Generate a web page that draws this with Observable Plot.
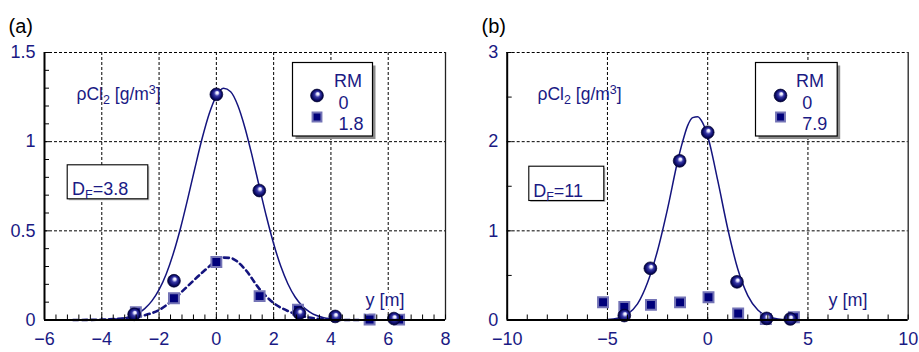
<!DOCTYPE html>
<html><head><meta charset="utf-8">
<script src="https://cdn.jsdelivr.net/npm/d3@7"></script>
<script src="https://cdn.jsdelivr.net/npm/@observablehq/plot@0.6"></script>
<style>
body{margin:0;background:#fff;}
#wrap{display:flex;width:919px;height:352px;overflow:hidden;}
</style></head><body><div id="wrap"></div>
<script>
// ---------- Panel (a) data ----------
const aCircleX = [-2.87, -1.48, 0, 1.5, 2.9, 4.15, 6.2];
const aCircleY = [0.032, 0.22, 1.265, 0.726, 0.038, 0.02, 0.008];
const aSquareX = [-2.81, -1.48, 0, 1.51, 2.85, 5.35, 6.38];
const aSquareY = [0.044, 0.122, 0.325, 0.134, 0.058, 0.003, 0.003];
const aFitX = [-5, -4.5, -4, -3.5, -3.25, -3, -2.75, -2.5, -2.25, -2, -1.75, -1.5, -1.25, -1, -0.75, -0.5, -0.25, 0, 0.25, 0.5, 0.75, 1, 1.25, 1.5, 1.75, 2, 2.25, 2.5, 2.75, 3, 3.25, 3.5, 3.75, 4, 4.5, 5, 5.5, 6];
const aFitY = [0, 0.0002, 0.001, 0.005, 0.01, 0.02, 0.036, 0.064, 0.107, 0.17, 0.258, 0.374, 0.516, 0.679, 0.851, 1.016, 1.157, 1.256, 1.299, 1.28, 1.203, 1.077, 0.919, 0.747, 0.579, 0.428, 0.301, 0.202, 0.129, 0.079, 0.046, 0.025, 0.013, 0.007, 0.001, 0, 0, 0];
const aDashX = [-5, -4, -3.5, -3, -2.5, -2, -1.5, -1, -0.5, 0, 0.25, 0.5, 1, 1.5, 2, 2.5, 3, 3.5, 4, 4.5, 5];
const aDashY = [0, 0.002, 0.006, 0.013, 0.027, 0.056, 0.115, 0.19, 0.265, 0.33, 0.35, 0.347, 0.285, 0.175, 0.095, 0.05, 0.022, 0.008, 0.002, 0, 0];
const aXDomain = [-6, 8];
const aYDomain = [0, 1.5];
const aXTicks = [-6, -4, -2, 0, 2, 4, 6, 8];
const aYTicks = [0, 0.5, 1, 1.5];
const aGridX = [-4, -2, 0, 2, 4, 6];
const aGridY = [0.5, 1];
const aLegend = ["RM", "0", "1.8"];
const aDF = "D_F=3.8";

// ---------- Panel (b) data ----------
const bCircleX = [-4.16, -2.86, -1.4, 0, 1.46, 2.94, 4.12];
const bCircleY = [0.05, 0.58, 1.785, 2.105, 0.428, 0.018, 0.012];
const bSquareX = [-5.22, -4.16, -2.83, -1.38, 0.04, 1.52, 2.9, 4.3];
const bSquareY = [0.2, 0.145, 0.17, 0.198, 0.255, 0.072, 0.012, 0.03];
const bFitX = [-5, -4.5, -4, -3.5, -3, -2.5, -2, -1.5, -1.25, -1, -0.75, -0.5, -0.25, 0, 0.5, 1, 1.5, 2, 2.5, 3, 3.5, 4, 4.5, 5];
const bFitY = [0.005, 0.02, 0.065, 0.18, 0.42, 0.78, 1.25, 1.78, 2.0, 2.18, 2.27, 2.28, 2.21, 2.06, 1.565, 1.023, 0.571, 0.273, 0.111, 0.039, 0.012, 0.003, 0.001, 0];
const bXDomain = [-10, 10];
const bYDomain = [0, 3];
const bXTicks = [-10, -5, 0, 5, 10];
const bYTicks = [0, 1, 2, 3];
const bGridX = [-5, 0, 5];
const bGridY = [1, 2];
const bLegend = ["RM", "0", "7.9"];
const bDF = "D_F=11";

const yLabel = "ρCl_2 [g/m^3]";
const xLabel = "y [m]";

const NAVY = "#1a1a84";
const LINE = "#14147e";
const FONT = "'Liberation Sans', Arial, Helvetica, sans-serif";
const FS = 18;
const fmt = d => (d < 0 ? "\u2212" + (-d) : String(d));
const pts = (xs, ys) => xs.map((x, i) => ({x, y: ys[i]}));

function panel(c) {
  const H = 352;
  const fw = c.width - c.ml - c.mr;
  const fh = H - c.mt - c.mb;
  const dashed = {stroke: "black", strokeWidth: 1, strokeDasharray: "3,2"};
  const lg = c.legendBox; // insets
  const marks = [
    Plot.ruleX(c.gridX, dashed),
    Plot.ruleY(c.gridY, dashed),
    Plot.ruleY([c.yDomain[1]], dashed),
    Plot.ruleX([c.xDomain[1]], {stroke: "#222", strokeWidth: 1.3}),
    // legend shadow + box
    Plot.frame({fill: "#8c8c8c", stroke: null, insetLeft: lg[0] + 3, insetTop: lg[1] + 3, insetRight: lg[2] - 3, insetBottom: lg[3] - 3}),
    Plot.frame({fill: "white", stroke: "black", strokeWidth: 1.2, insetLeft: lg[0], insetTop: lg[1], insetRight: lg[2], insetBottom: lg[3]}),
    // DF box
    Plot.frame({fill: "#bbbbbb", stroke: null, insetLeft: c.dfBox[0] + 1.5, insetTop: c.dfBox[1] + 1.5, insetRight: c.dfBox[2] - 1.5, insetBottom: c.dfBox[3] - 1.5}),
    Plot.frame({fill: "white", stroke: "black", strokeWidth: 1.1, insetLeft: c.dfBox[0], insetTop: c.dfBox[1], insetRight: c.dfBox[2], insetBottom: c.dfBox[3]}),
  ];
  if (c.dash) marks.push(Plot.line(pts(c.dash[0], c.dash[1]), {x: "x", y: "y", stroke: LINE, strokeWidth: 2.6, strokeDasharray: "5,4", curve: "monotone-x"}));
  marks.push(
    Plot.line(pts(c.fit[0], c.fit[1]), {x: "x", y: "y", stroke: LINE, strokeWidth: 1.5, curve: "monotone-x"}),
    Plot.dot(pts(c.sq[0], c.sq[1]), {x: "x", y: "y", symbol: "square", r: 5.6, fill: "#00007a", stroke: "#7474b6", strokeWidth: 2}),
    Plot.dot(pts(c.ci[0], c.ci[1]), {x: "x", y: "y", r: 6.4, fill: `url(#${c.id}sph)`, stroke: "#000035", strokeWidth: 0.7}),
    // axes: lines
    Plot.ruleY([c.yDomain[0]], {stroke: "black", strokeWidth: 2}),
    Plot.ruleX([c.xDomain[0]], {stroke: "black", strokeWidth: 2}),
    // inward minor ticks
    Plot.tickX(c.minorX, {x: d => d, insetTop: fh - 5, stroke: "black", strokeWidth: 1}),
    Plot.tickY(c.minorY, {y: d => d, insetRight: fw - 5, stroke: "black", strokeWidth: 1}),
    Plot.axisX({ticks: c.xTicks, tickSize: 0, tickPadding: 12, tickFormat: fmt, label: null, fontSize: FS}),
    Plot.axisY({ticks: c.yTicks, tickSize: 0, tickPadding: 9, tickFormat: fmt, label: null, fontSize: FS}),
    // legend symbols & text
    Plot.dot([0], {frameAnchor: "top-left", dx: c.legSym[0], dy: c.legSym[1], r: 6.4, fill: `url(#${c.id}sph)`, stroke: "#000035", strokeWidth: 0.7}),
    Plot.dot([0], {frameAnchor: "top-left", dx: c.legSym[0], dy: c.legSym[2], symbol: "square", r: 5, fill: "#00007a", stroke: "#7474b6", strokeWidth: 2}),
    Plot.text([c.legend[0]], {frameAnchor: "top-left", dx: c.legRM[0], dy: c.legRM[1], textAnchor: "middle", fontSize: FS, fill: NAVY}),
    Plot.text([c.legend[1]], {frameAnchor: "top-left", dx: c.legTxt[0], dy: c.legTxt[1], textAnchor: "start", fontSize: FS, fill: NAVY}),
    Plot.text([c.legend[2]], {frameAnchor: "top-left", dx: c.legTxt[0], dy: c.legTxt[2], textAnchor: "start", fontSize: FS, fill: NAVY}),
    // labels
    Plot.text([c.df], {frameAnchor: "top-left", dx: c.dfTxt[0], dy: c.dfTxt[1], textAnchor: "start", fontSize: FS, fill: NAVY}),
    Plot.text([yLabel], {frameAnchor: "top-left", dx: c.yLab[0], dy: c.yLab[1], textAnchor: "start", fontSize: 17.5, fill: NAVY}),
    Plot.text([xLabel], {frameAnchor: "top-left", dx: c.xLab[0], dy: c.xLab[1], textAnchor: "start", fontSize: FS, fill: NAVY, stroke: "white", strokeWidth: 7, paintOrder: "stroke"}),
    Plot.text([c.name], {frameAnchor: "top-left", dx: c.nameAt[0], dy: c.nameAt[1], textAnchor: "start", fontSize: 20, fill: "black"})
  );
  const svg = Plot.plot({
    width: c.width, height: H,
    marginLeft: c.ml, marginRight: c.mr, marginTop: c.mt, marginBottom: c.mb,
    x: {domain: c.xDomain, label: null},
    y: {domain: c.yDomain, label: null},
    style: {fontFamily: FONT, fontSize: FS + "px", color: NAVY, background: "white", overflow: "visible"},
    marks
  });
  // gradient for 3D spheres
  const ns = "http://www.w3.org/2000/svg";
  const defs = document.createElementNS(ns, "defs");
  defs.innerHTML = `<radialGradient id="${c.id}sph" cx="0.5" cy="0.5" r="0.5" fx="0.58" fy="0.34">
    <stop offset="0" stop-color="#ffffff"/>
    <stop offset="0.18" stop-color="#e6e6ff"/>
    <stop offset="0.44" stop-color="#3838a6"/>
    <stop offset="0.78" stop-color="#0c0c6a"/>
    <stop offset="1" stop-color="#000030"/>
  </radialGradient>`;
  svg.insertBefore(defs, svg.firstChild);
  // sub/superscripts
  svg.querySelectorAll("text").forEach(t => {
    const s = t.textContent;
    if (!/[_^]/.test(s) || t.children.length) return;
    t.textContent = "";
    let off = 0;
    for (const part of s.split(/([_^].)/).filter(p => p)) {
      const sp = document.createElementNS(ns, "tspan");
      let target = 0, txt = part, small = false;
      if (part[0] === "_") { target = 4; txt = part.slice(1); small = true; }
      else if (part[0] === "^") { target = -6; txt = part.slice(1); small = true; }
      if (target - off !== 0) sp.setAttribute("dy", target - off);
      if (small) sp.setAttribute("font-size", "12.5");
      sp.textContent = txt;
      t.appendChild(sp);
      off = target;
    }
  });
  return svg;
}

const wrap = document.getElementById("wrap");
wrap.appendChild(panel({
  id: "a", name: "(a)", width: 460, ml: 44, mr: 15, mt: 52, mb: 32.5,
  xDomain: aXDomain, yDomain: aYDomain, xTicks: aXTicks, yTicks: aYTicks,
  gridX: aGridX, gridY: aGridY,
  minorX: d3.range(-6, 8.001, 0.4), minorY: d3.range(0, 1.5001, 0.1),
  ci: [aCircleX, aCircleY], sq: [aSquareX, aSquareY], fit: [aFitX, aFitY], dash: [aDashX, aDashY],
  legendBox: [248, 10, 73, 184], legSym: [272.5, 43, 64.5], legRM: [303.5, 21.5], legTxt: [294, 43.5, 64.5],
  legend: aLegend, df: aDF, dfBox: [22.7, 112.3, 297.7, 121.2], dfTxt: [27.5, 129.5],
  yLab: [32, 35.5], xLab: [321, 241], nameAt: [-36, -33.5]
}));
wrap.appendChild(panel({
  id: "b", name: "(b)", width: 459, ml: 46.7, mr: 11.3, mt: 52, mb: 32.5,
  xDomain: bXDomain, yDomain: bYDomain, xTicks: bXTicks, yTicks: bYTicks,
  gridX: bGridX, gridY: bGridY,
  minorX: d3.range(-10, 10.001, 1), minorY: d3.range(0, 3.001, 0.5),
  ci: [bCircleX, bCircleY], sq: [bSquareX, bSquareY], fit: [bFitX, bFitY], dash: null,
  legendBox: [248.3, 10, 71, 184], legSym: [273.3, 43, 64.5], legRM: [302.8, 21.5], legTxt: [295, 43.5, 64.5],
  legend: bLegend, df: bDF, dfBox: [21.6, 113.7, 304.4, 119.5], dfTxt: [26, 131.5],
  yLab: [30.3, 35.5], xLab: [321.3, 241], nameAt: [-25.7, -33.5]
}));
</script></body></html>
